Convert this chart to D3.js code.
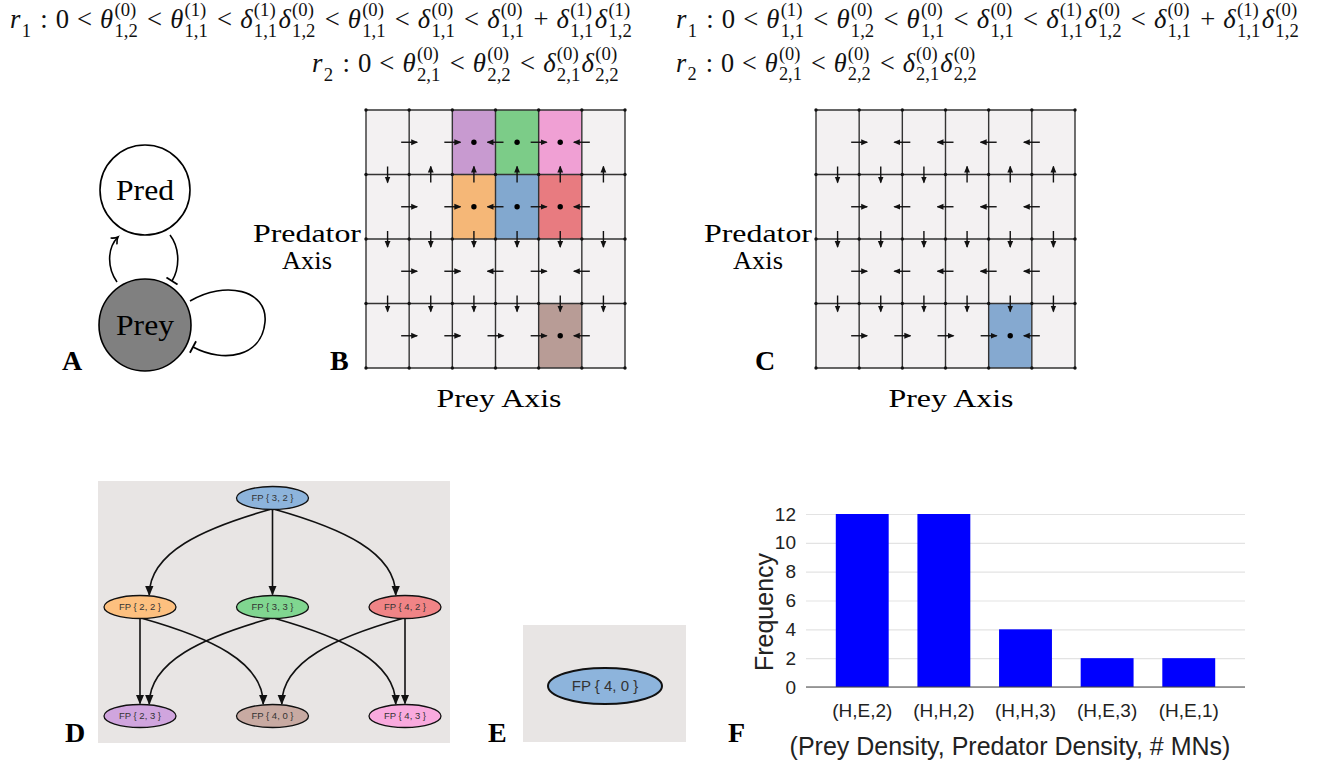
<!DOCTYPE html>
<html>
<head>
<meta charset="utf-8">
<script src="https://cdn.jsdelivr.net/npm/d3@7"></script>
<style>
  body { margin: 0; background: #fff; }
  svg { display: block; }
</style>
</head>
<body>
<script>
// ---- formulas (tokens: base^sup_sub, operators alone) ----
var formulaLeftR1 = ["r_1", ":", "0", "<", "θ^(0)_1,2", "<", "θ^(1)_1,1", "<", "δ^(1)_1,1", "δ^(0)_1,2", "<",
  "θ^(0)_1,1", "<", "δ^(0)_1,1", "<", "δ^(0)_1,1", "+", "δ^(1)_1,1", "δ^(1)_1,2"];
var formulaRightR1 = ["r_1", ":", "0", "<", "θ^(1)_1,1", "<", "θ^(0)_1,2", "<", "θ^(0)_1,1", "<", "δ^(0)_1,1", "<",
  "δ^(1)_1,1", "δ^(0)_1,2", "<", "δ^(0)_1,1", "+", "δ^(1)_1,1", "δ^(0)_1,2"];
var formulaR2 = ["r_2", ":", "0", "<", "θ^(0)_2,1", "<", "θ^(0)_2,2", "<", "δ^(0)_2,1", "δ^(0)_2,2"];

// ---- state space grids: 1 = right/up, -1 = left/down ----
var gridCols = 6, gridRows = 4;
var bHoriz = [[1, 1, -1, 1, -1], [1, 1, -1, 1, -1], [1, 1, -1, 1, -1], [1, 1, 1, 1, -1]];
var bVert = [[-1, 1, 1, 1, 1, 1], [-1, -1, -1, -1, -1, -1], [-1, -1, -1, -1, -1, -1]];
var bCells = [{row: 0, col: 2, color: "#c89ad0"}, {row: 0, col: 3, color: "#7ccc88"}, {row: 0, col: 4, color: "#f0a0d4"},
  {row: 1, col: 2, color: "#f5b777"}, {row: 1, col: 3, color: "#82a8cf"}, {row: 1, col: 4, color: "#e87b80"},
  {row: 3, col: 4, color: "#b89c96"}];
var cHoriz = [[1, -1, -1, -1, -1], [1, -1, -1, -1, -1], [1, -1, -1, -1, -1], [1, 1, 1, 1, -1]];
var cVert = [[-1, -1, -1, 1, 1, 1], [-1, -1, -1, -1, -1, -1], [-1, -1, -1, -1, -1, -1]];
var cCells = [{row: 3, col: 4, color: "#85a9d0"}];

// ---- fixed point graph ----
var dNodes = [
  {id: "3, 2", level: 0, slot: 1}, {id: "2, 2", level: 1, slot: 0}, {id: "3, 3", level: 1, slot: 1},
  {id: "4, 2", level: 1, slot: 2}, {id: "2, 3", level: 2, slot: 0}, {id: "4, 0", level: 2, slot: 1},
  {id: "4, 3", level: 2, slot: 2}];
var dColors = {"3, 2": "#8db4dc", "2, 2": "#fdc07f", "3, 3": "#80d690", "4, 2": "#f08486",
  "2, 3": "#d0a5de", "4, 0": "#c8aaa2", "4, 3": "#f9aade"};
var dEdges = [["3, 2", "2, 2"], ["3, 2", "3, 3"], ["3, 2", "4, 2"], ["2, 2", "2, 3"], ["2, 2", "4, 0"],
  ["3, 3", "2, 3"], ["3, 3", "4, 3"], ["4, 2", "4, 0"], ["4, 2", "4, 3"]];
var eNode = "4, 0";

// ---- frequency bar chart ----
var freqCats = ["(H,E,2)", "(H,H,2)", "(H,H,3)", "(H,E,3)", "(H,E,1)"];
var freqVals = [12, 12, 4, 2, 2];
var freqTicks = [0, 2, 4, 6, 8, 10, 12];

var serif = "'Liberation Serif', 'Times New Roman', serif";
var sans = "'Liberation Sans', Arial, sans-serif";

var svg = d3.select("body").append("svg").attr("width", 1323).attr("height", 768);
var defs = svg.append("defs");

defs.append("marker").attr("id", "gridHead")
  .attr("markerUnits", "userSpaceOnUse").attr("markerWidth", 7).attr("markerHeight", 7)
  .attr("refX", 6).attr("refY", 3.5).attr("orient", "auto")
  .append("path").attr("d", "M0,0.6 L7,3.5 L0,6.4 z").attr("fill", "#111");
defs.append("marker").attr("id", "graphHead")
  .attr("markerUnits", "userSpaceOnUse").attr("markerWidth", 10).attr("markerHeight", 10)
  .attr("refX", 9).attr("refY", 5).attr("orient", "auto")
  .append("path").attr("d", "M0,0.8 L10,5 L0,9.2 z").attr("fill", "#111");
defs.append("marker").attr("id", "openHead")
  .attr("markerUnits", "userSpaceOnUse").attr("markerWidth", 12).attr("markerHeight", 12)
  .attr("refX", 7).attr("refY", 6).attr("orient", "auto")
  .append("path").attr("d", "M1,1.5 Q4,5 7,6 Q4,7 1,10.5").attr("fill", "none").attr("stroke", "#000").attr("stroke-width", 1.6);
defs.append("marker").attr("id", "tBar")
  .attr("markerUnits", "userSpaceOnUse").attr("markerWidth", 4).attr("markerHeight", 14)
  .attr("viewBox", "-2 -7 4 14").attr("refX", 0).attr("refY", 0).attr("orient", "auto")
  .append("path").attr("d", "M0,-6.5 L0,6.5").attr("stroke", "#000").attr("stroke-width", 1.8);

// ---- formulas ----
function drawFormula(tokens, x0, baseline, targetW) {
  var size = 21;
  var g = svg.append("g").style("font-family", serif).attr("fill", "#111");
  var x = 0;
  tokens.forEach(function(tok) {
    if (tok === "<" || tok === "+" || tok === ":") {
      var gap = size * 0.3;
      x += gap;
      var op = g.append("text").attr("x", x).attr("y", 0).style("font-size", size + "px").text(tok);
      x += op.node().getComputedTextLength() + gap;
      return;
    }
    var m = tok.match(/^([^\^_]+)(?:\^([^_]+))?(?:_(.+))?$/);
    var t = g.append("text").attr("x", x).attr("y", 0).style("font-size", size + "px")
      .style("font-style", /[a-zθδ]/.test(m[1]) ? "italic" : "normal").text(m[1]);
    x += t.node().getComputedTextLength() + (m[2] || m[3] ? 1 : 0);
    var w = 0;
    if (m[2]) {
      var sp = g.append("text").attr("x", x).attr("y", -size * 0.45).style("font-size", size * 0.7 + "px").text(m[2]);
      w = Math.max(w, sp.node().getComputedTextLength());
    }
    if (m[3]) {
      var sb = g.append("text").attr("x", x).attr("y", size * 0.32).style("font-size", size * 0.7 + "px").text(m[3]);
      w = Math.max(w, sb.node().getComputedTextLength());
    }
    x += w + (w ? 1 : 0);
  });
  var s = targetW / x;
  g.attr("transform", "translate(" + x0 + "," + baseline + ") scale(" + s + ")");
}
drawFormula(formulaLeftR1, 10, 28, 623);
drawFormula(formulaR2, 312, 72, 308);
drawFormula(formulaRightR1, 676, 28, 624);
drawFormula(formulaR2, 676, 72, 302);

// ---- panel A: network ----
var gA = svg.append("g");
gA.append("circle").attr("cx", 145).attr("cy", 190).attr("r", 45)
  .attr("fill", "#fff").attr("stroke", "#000").attr("stroke-width", 1.6);
gA.append("circle").attr("cx", 145).attr("cy", 325).attr("r", 46)
  .attr("fill", "#808080").attr("stroke", "#000").attr("stroke-width", 1.6);
gA.append("text").attr("x", 145).attr("y", 190).attr("dy", "0.33em").attr("text-anchor", "middle")
  .style("font-family", serif).style("font-size", "29px").attr("textLength", 58).attr("lengthAdjust", "spacingAndGlyphs").text("Pred");
gA.append("text").attr("x", 145).attr("y", 325).attr("dy", "0.33em").attr("text-anchor", "middle")
  .style("font-family", serif).style("font-size", "29px").attr("textLength", 58).attr("lengthAdjust", "spacingAndGlyphs").text("Prey");
gA.append("path").attr("d", "M117,282 C107,268 107,248 118,237")
  .attr("fill", "none").attr("stroke", "#000").attr("stroke-width", 1.6).attr("marker-end", "url(#openHead)");
gA.append("path").attr("d", "M170,235 C180,248 180,268 172,281")
  .attr("fill", "none").attr("stroke", "#000").attr("stroke-width", 1.6).attr("marker-end", "url(#tBar)");
gA.append("path").attr("d", "M190,301 C225,280 268,290 265,322 C262,356 225,364 193,347")
  .attr("fill", "none").attr("stroke", "#000").attr("stroke-width", 1.6).attr("marker-end", "url(#tBar)");

// ---- panels B and C: grids ----
function drawGrid(left, right, top, bottom, horiz, vert, cells) {
  var gx = d3.scaleLinear().domain([0, gridCols]).range([left, right]);
  var gy = d3.scaleLinear().domain([0, gridRows]).range([top, bottom]);
  var g = svg.append("g");
  var colorOf = {};
  cells.forEach(function(c) { colorOf[c.row + "-" + c.col] = c.color; });
  var all = [];
  d3.range(gridRows).forEach(function(r) { d3.range(gridCols).forEach(function(c) { all.push({r: r, c: c}); }); });
  g.selectAll("rect.cell").data(all).enter().append("rect")
    .attr("x", function(d) { return gx(d.c); }).attr("y", function(d) { return gy(d.r); })
    .attr("width", gx(1) - gx(0)).attr("height", gy(1) - gy(0))
    .attr("fill", function(d) { return colorOf[d.r + "-" + d.c] || "#f3f1f2"; });
  g.selectAll("line.v").data(d3.range(gridCols + 1)).enter().append("line")
    .attr("x1", gx).attr("x2", gx).attr("y1", top).attr("y2", bottom)
    .attr("stroke", "#333").attr("stroke-width", 1.4);
  g.selectAll("line.h").data(d3.range(gridRows + 1)).enter().append("line")
    .attr("x1", left).attr("x2", right).attr("y1", gy).attr("y2", gy)
    .attr("stroke", "#333").attr("stroke-width", 1.4);
  var nodes = [];
  d3.range(gridRows + 1).forEach(function(r) { d3.range(gridCols + 1).forEach(function(c) { nodes.push({r: r, c: c}); }); });
  g.selectAll("circle.node").data(nodes).enter().append("circle")
    .attr("cx", function(d) { return gx(d.c); }).attr("cy", function(d) { return gy(d.r); })
    .attr("r", 1.7).attr("fill", "#111");
  var len = 8;
  horiz.forEach(function(row, r) {
    row.forEach(function(dir, i) {
      var cx = gx(i + 1), cy = gy(r + 0.5);
      g.append("line").attr("x1", cx - dir * len).attr("x2", cx + dir * len).attr("y1", cy).attr("y2", cy)
        .attr("stroke", "#111").attr("stroke-width", 1.4).attr("marker-end", "url(#gridHead)");
    });
  });
  vert.forEach(function(row, j) {
    row.forEach(function(dir, c) {
      var cx = gx(c + 0.5), cy = gy(j + 1);
      g.append("line").attr("x1", cx).attr("x2", cx).attr("y1", cy + dir * len).attr("y2", cy - dir * len)
        .attr("stroke", "#111").attr("stroke-width", 1.4).attr("marker-end", "url(#gridHead)");
    });
  });
  g.selectAll("circle.fp").data(cells).enter().append("circle")
    .attr("cx", function(d) { return gx(d.col + 0.5); }).attr("cy", function(d) { return gy(d.row + 0.5); })
    .attr("r", 2.7).attr("fill", "#000");
}
drawGrid(366, 625, 110, 368, bHoriz, bVert, bCells);
drawGrid(816, 1075, 110, 368, cHoriz, cVert, cCells);

function axisLabels(cx, tx) {
  svg.append("text").attr("x", cx).attr("y", 242).attr("text-anchor", "middle")
    .style("font-family", serif).style("font-size", "25px")
    .attr("textLength", 108).attr("lengthAdjust", "spacingAndGlyphs").text("Predator");
  svg.append("text").attr("x", cx).attr("y", 269).attr("text-anchor", "middle")
    .style("font-family", serif).style("font-size", "25px")
    .attr("textLength", 50).attr("lengthAdjust", "spacingAndGlyphs").text("Axis");
  svg.append("text").attr("x", tx).attr("y", 407).attr("text-anchor", "middle")
    .style("font-family", serif).style("font-size", "26px")
    .attr("textLength", 125).attr("lengthAdjust", "spacingAndGlyphs").text("Prey Axis");
}
axisLabels(307, 499);
axisLabels(758, 951);

// ---- panel D: fixed point graph ----
svg.append("rect").attr("x", 98).attr("y", 481).attr("width", 352).attr("height", 262).attr("fill", "#e8e5e4");
var dx = d3.scalePoint().domain([0, 1, 2]).range([140, 405]);
var dy = d3.scalePoint().domain([0, 1, 2]).range([498, 716]);
var rx = 36, ry = 11.5;
var byId = {};
dNodes.forEach(function(n) { byId[n.id] = n; });
var gD = svg.append("g");
dEdges.forEach(function(e) {
  var s = byId[e[0]], t = byId[e[1]];
  var sx = dx(s.slot), sy = dy(s.level) + ry;
  var tx = dx(t.slot), ty = dy(t.level);
  var ddx = tx - sx;
  var sxx = sx + ddx * 0.02;
  var ex = tx - ddx * 0.07;
  var ey = ty - ry * Math.sqrt(1 - Math.pow((ex - tx) / rx, 2)) - 1;
  var w = ex - sxx, h = ey - sy;
  var path = d3.path();
  path.moveTo(sxx, sy);
  path.bezierCurveTo(sxx + 0.55 * w, sy + 0.22 * h, ex, ey - 0.5 * h, ex, ey);
  gD.append("path").attr("d", path.toString()).attr("fill", "none")
    .attr("stroke", "#111").attr("stroke-width", 1.6).attr("marker-end", "url(#graphHead)");
});
gD.selectAll("ellipse").data(dNodes).enter().append("ellipse")
  .attr("cx", function(d) { return dx(d.slot); }).attr("cy", function(d) { return dy(d.level); })
  .attr("rx", rx).attr("ry", ry).attr("fill", function(d) { return dColors[d.id]; })
  .attr("stroke", "#111").attr("stroke-width", 1.3);
gD.selectAll("text").data(dNodes).enter().append("text")
  .attr("x", function(d) { return dx(d.slot); }).attr("y", function(d) { return dy(d.level); })
  .attr("dy", "0.35em").attr("text-anchor", "middle")
  .style("font-family", sans).style("font-size", "9.5px").attr("fill", "#333")
  .text(function(d) { return "FP { " + d.id + " }"; });

// ---- panel E ----
svg.append("rect").attr("x", 523).attr("y", 625).attr("width", 163).attr("height", 117).attr("fill", "#e8e5e4");
svg.append("ellipse").attr("cx", 605).attr("cy", 686).attr("rx", 57).attr("ry", 18)
  .attr("fill", dColors["3, 2"]).attr("stroke", "#111").attr("stroke-width", 2);
svg.append("text").attr("x", 605).attr("y", 686).attr("dy", "0.35em").attr("text-anchor", "middle")
  .style("font-family", sans).style("font-size", "15px").attr("fill", "#333").text("FP { " + eNode + " }");

// ---- panel F: bar chart ----
var fx = d3.scaleBand().domain(freqCats).range([806, 1245]).paddingInner(0.352).paddingOuter(0.365);
var fy = d3.scaleLinear().domain([0, 12]).range([687, 514]);
var gF = svg.append("g");
var yAxis = gF.append("g").attr("transform", "translate(806,0)")
  .call(d3.axisLeft(fy).tickValues(freqTicks).tickSize(-(1245 - 806)).tickPadding(10));
yAxis.select(".domain").remove();
yAxis.selectAll(".tick line").attr("stroke", "#e3e3e3").attr("stroke-width", 1.2);
yAxis.selectAll(".tick text").style("font-family", sans).style("font-size", "19px").attr("fill", "#222");
gF.selectAll("rect.bar").data(freqVals).enter().append("rect")
  .attr("x", function(d, i) { return fx(freqCats[i]); }).attr("y", function(d) { return fy(d); })
  .attr("width", fx.bandwidth()).attr("height", function(d) { return fy(0) - fy(d); })
  .attr("fill", "#0000ff");
gF.append("line").attr("x1", 806).attr("x2", 1245).attr("y1", fy(0)).attr("y2", fy(0))
  .attr("stroke", "#444").attr("stroke-width", 1.2);
var xAxis = gF.append("g").attr("transform", "translate(0," + fy(0) + ")")
  .call(d3.axisBottom(fx).tickSize(0).tickPadding(17));
xAxis.select(".domain").remove();
xAxis.selectAll(".tick text").style("font-family", sans).style("font-size", "19px").attr("fill", "#222");
gF.append("text").attr("transform", "translate(764,612) rotate(-90)").attr("dy", "0.35em")
  .attr("text-anchor", "middle").style("font-family", sans).style("font-size", "25px").attr("fill", "#222")
  .text("Frequency");
gF.append("text").attr("x", 1010).attr("y", 755).attr("text-anchor", "middle")
  .style("font-family", sans).style("font-size", "25px").attr("fill", "#222")
  .text("(Prey Density, Predator Density, # MNs)");

// ---- panel letters ----
var panelLetters = ["A", "B", "C", "D", "E", "F"];
var letterPos = [[62, 370], [330, 370], [755, 370], [65, 742], [488, 742], [728, 742]];
panelLetters.forEach(function(l, i) {
  svg.append("text").attr("x", letterPos[i][0]).attr("y", letterPos[i][1])
    .style("font-family", serif).style("font-size", "28px").style("font-weight", "bold").text(l);
});
</script>
</body>
</html>
